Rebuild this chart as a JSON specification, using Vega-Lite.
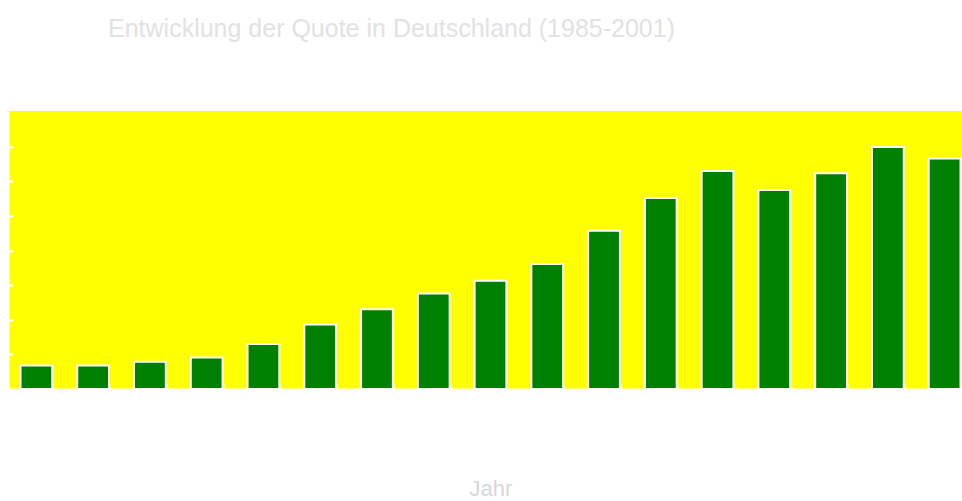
{
  "$schema": "https://vega.github.io/schema/vega-lite/v6.json",
  "autosize": "none",
  "width": 965,
  "height": 278,
  "padding": {"left": 8, "top": 111, "right": 0, "bottom": 112},
  "background": "#ffffff",
  "title": {
    "text": "Entwicklung der Quote in Deutschland (1985-2001)",
    "anchor": "start",
    "frame": "group",
    "dx": 100,
    "offset": 49,
    "baseline": "alphabetic",
    "font": "Liberation Sans",
    "fontSize": 25,
    "fontWeight": "normal",
    "color": "#e2e2e2"
  },
  "config": {
    "view": {"fill": "#ffff00", "stroke": null},
    "font": "Liberation Sans"
  },
  "data": {
    "values": [
      {"jahr": "1985", "wert": 6.8},
      {"jahr": "1986", "wert": 6.8},
      {"jahr": "1987", "wert": 7.9},
      {"jahr": "1988", "wert": 9.1},
      {"jahr": "1989", "wert": 13.0},
      {"jahr": "1990", "wert": 18.6},
      {"jahr": "1991", "wert": 23.0},
      {"jahr": "1992", "wert": 27.6},
      {"jahr": "1993", "wert": 31.3},
      {"jahr": "1994", "wert": 36.1},
      {"jahr": "1995", "wert": 45.7},
      {"jahr": "1996", "wert": 55.2},
      {"jahr": "1997", "wert": 63.0},
      {"jahr": "1998", "wert": 57.5},
      {"jahr": "1999", "wert": 62.3},
      {"jahr": "2000", "wert": 69.9},
      {"jahr": "2001", "wert": 66.6}
    ]
  },
  "mark": {"type": "bar", "color": "#008000", "stroke": "#ffffff", "strokeWidth": 2},
  "encoding": {
    "x": {
      "field": "jahr",
      "type": "ordinal",
      "scale": {"paddingInner": 0.44, "paddingOuter": 0.22},
      "axis": {
        "title": "Jahr",
        "titleColor": "#d8d8d8",
        "titleFontSize": 22,
        "titleFontWeight": "normal",
        "titlePadding": 32,
        "labelAngle": 270,
        "labelColor": "#ffffff",
        "labelFontSize": 21,
        "labelPadding": 16,
        "tickBand": "extent",
        "tickSize": -5,
        "tickWidth": 2,
        "tickColor": "#ffffff",
        "domainColor": "#ffffff",
        "domainWidth": 2
      }
    },
    "y": {
      "field": "wert",
      "type": "quantitative",
      "scale": {"domain": [0, 80.3], "nice": false},
      "axis": {
        "title": null,
        "labels": false,
        "grid": false,
        "values": [10, 20, 30, 40, 50, 60, 70],
        "tickSize": -5,
        "tickWidth": 2,
        "tickColor": "#ffffff",
        "domainColor": "#ffffff",
        "domainWidth": 2
      }
    }
  }
}
